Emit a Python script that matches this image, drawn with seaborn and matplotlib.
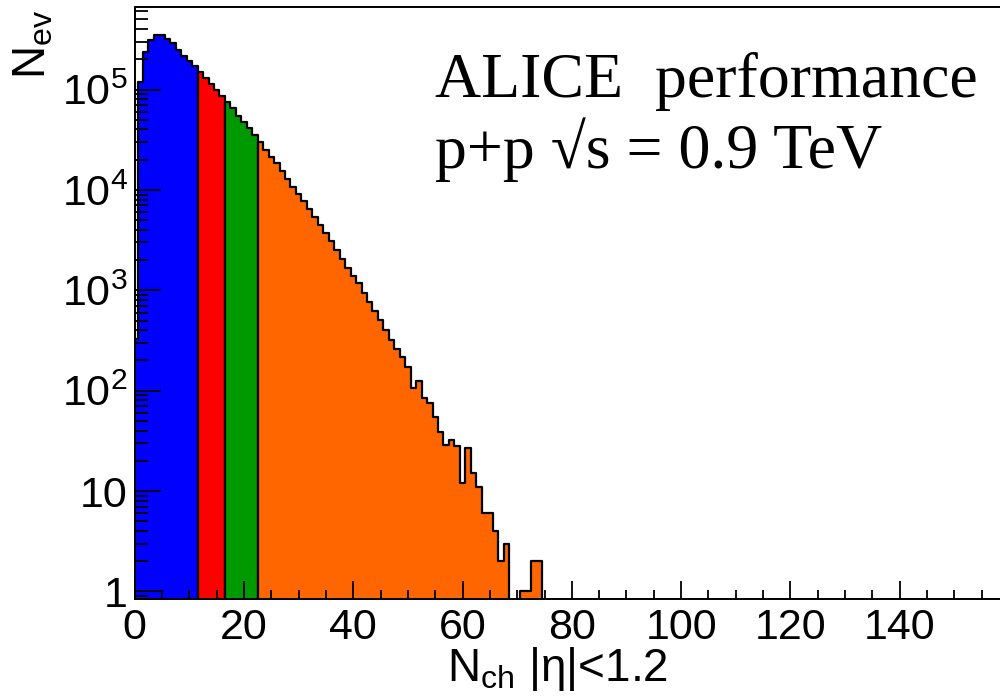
import numpy as np
import pandas as pd
import matplotlib
matplotlib.use("Agg")
import matplotlib.pyplot as plt
import matplotlib.ticker as mticker
import seaborn as sns

# ---- data ----
counts = [330, 1.20e5, 2.38e5, 3.11e5, 3.49e5, 3.47e5, 3.2e5, 2.9e5, 2.5e5, 2.18e5,
          1.91e5, 1.71e5, 1.49e5, 1.31e5, 1.14e5, 9.9e4, 8.6e4, 7.5e4, 6.5e4, 5.5e4,
          4.7e4, 4.1e4, 3.5e4, 2.99e4, 2.51e4, 2.15e4, 1.85e4, 1.54e4, 1.29e4, 1.08e4,
          9170, 7740, 6510, 5360, 4430, 3720, 3100, 2540, 2070, 1680,
          1390, 1170, 940, 765, 622, 503, 400, 323, 263, 217,
          173, 106, 125, 85, 76, 55, 39, 29, 32, 28,
          12, 27, 15, 11, 6, 6, 4, 2, 3, 0,
          0, 1, 1, 2, 2]
nch = list(range(len(counts)))
class_starts = [0, 12, 17, 23]
class_ends = [12, 17, 23, 75]
class_colors = ["#0000FF", "#FF0000", "#009900", "#FF6600"]
ytick_values = [1, 10, 1e2, 1e3, 1e4, 1e5]
ytick_labels = ["1", "10", r"$\mathregular{10^{2}}$", r"$\mathregular{10^{3}}$",
                r"$\mathregular{10^{4}}$", r"$\mathregular{10^{5}}$"]
xtick_values = [0, 20, 40, 60, 80, 100, 120, 140]

df = pd.DataFrame({"nch": nch, "count": counts})

sns.set_style("ticks")
plt.rcParams["font.family"] = ["Liberation Sans", "DejaVu Sans"]
plt.rcParams["mathtext.fontset"] = "custom"
plt.rcParams["mathtext.rm"] = "Liberation Sans"
plt.rcParams["mathtext.it"] = "Liberation Sans:italic"
plt.rcParams["mathtext.bf"] = "Liberation Sans:bold"
plt.rcParams["text.color"] = "black"
plt.rcParams["axes.labelcolor"] = "black"
plt.rcParams["xtick.color"] = "black"
plt.rcParams["ytick.color"] = "black"
plt.rcParams["axes.edgecolor"] = "black"

fig = plt.figure(figsize=(10, 6.97), dpi=100)
ax = fig.add_axes([0.1348, 0.1402, 0.8741, 0.8493])

for s, e, c in zip(class_starts, class_ends, class_colors):
    sub = df.iloc[s:e]
    sns.histplot(data=sub, x="nch", weights="count", discrete=True,
                 element="step", fill=True, color=c, alpha=1.0,
                 edgecolor="black", linewidth=1.6, ax=ax)

ax.set_axisbelow(False)
ax.set_yscale("log")
ax.set_xlim(0, 160)
ax.set_ylim(0.836, 6.59e5)

ax.yaxis.set_major_locator(mticker.FixedLocator(ytick_values))
ax.yaxis.set_major_formatter(mticker.FixedFormatter(ytick_labels))
ax.yaxis.set_minor_locator(mticker.LogLocator(base=10, subs=np.arange(2, 10), numticks=20))
ax.yaxis.set_minor_formatter(mticker.NullFormatter())
ax.xaxis.set_major_locator(mticker.FixedLocator(xtick_values))
ax.xaxis.set_minor_locator(mticker.MultipleLocator(5))

ax.tick_params(axis="y", which="major", direction="in", length=18.5, width=1.3,
               labelsize=31, pad=5, colors="black")
ax.tick_params(axis="y", which="minor", direction="in", length=9, width=1.3,
               colors="black")
ax.tick_params(axis="x", which="major", direction="in", length=12.7, width=1.3,
               labelsize=31, pad=6, colors="black")
ax.tick_params(axis="x", which="minor", direction="in", length=6.3, width=1.3,
               colors="black")

for sp in ax.spines.values():
    sp.set_linewidth(1.4)
    sp.set_color("black")
ax.set_xlabel("")
ax.set_ylabel("")

fig.text(0.447, 1 - 681 / 697, "$\\mathregular{N_{ch}}$ |\u03b7|<1.2", fontsize=33,
         ha="left", va="baseline", color="black")
fig.text(0.056, 1 - 10 / 697, r"$\mathregular{N_{ev}}$", fontsize=33, rotation=90,
         ha="right", va="top", color="black")

serif = ["Liberation Serif", "DejaVu Serif"]
fig.text(0.435, 1 - 96.6 / 697, "ALICE  performance", fontsize=46, family=serif,
         ha="left", va="baseline", color="black")
fig.text(0.435, 1 - 167.5 / 697, "p+p \u221as = 0.9 TeV", fontsize=46, family=serif,
         ha="left", va="baseline", color="black")

fig.savefig("out.png", dpi=100)
